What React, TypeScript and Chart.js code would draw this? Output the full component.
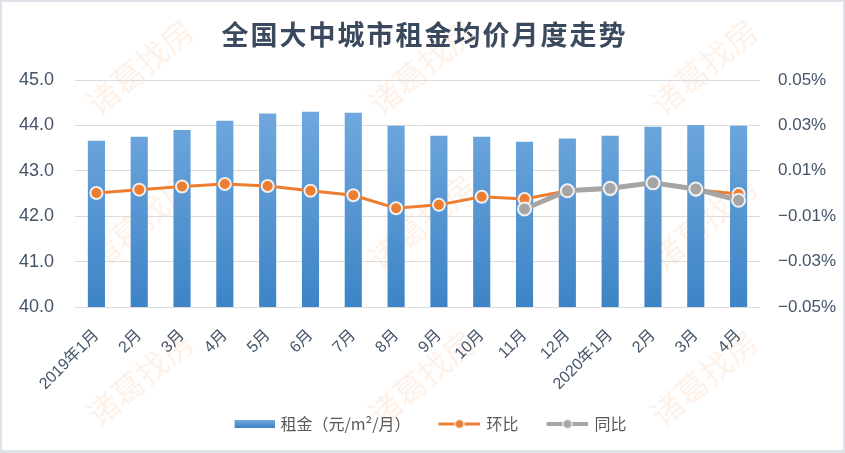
import React, { useEffect, useRef } from 'react';
import { Chart, registerables } from 'chart.js';

Chart.register(...registerables);

const titleText = '全国大中城市租金均价月度走势';
const watermarkText = '诸葛找房';
const categories = ['2019年1月', '2月', '3月', '4月', '5月', '6月', '7月', '8月', '9月', '10月', '11月', '12月', '2020年1月', '2月', '3月', '4月'];
const seriesNames = ['租金（元/m²/月）', '环比', '同比'];
const rentValues = [43.66, 43.75, 43.9, 44.1, 44.26, 44.3, 44.28, 43.99, 43.77, 43.75, 43.64, 43.71, 43.77, 43.97, 44.01, 43.99];
const momValues = [0.0002, 0.0017, 0.0031, 0.0042, 0.0033, 0.0012, -0.0008, -0.0065, -0.005, -0.0014, -0.0024, 0.0012, 0.0019, 0.0047, 0.0016, -0.0002];
const yoyValues = [null, null, null, null, null, null, null, null, null, null, -0.0068, 0.0012, 0.0023, 0.0047, 0.002, -0.003];
const leftAxisRange = [40, 45, 1];
const rightAxisRange = [-0.05, 0.05, 0.02];

const BLUE_TOP = '#70a8de';
const BLUE_BOTTOM = '#3d84c6';
const ORANGE = '#ed7d31';
const GRAY = '#a5a5a5';
const TEXT = '#44546a';
const LATIN_CJK = "'Liberation Sans', 'Noto Sans CJK SC', sans-serif";
const CJK = "'Noto Sans CJK SC', sans-serif";

// legend marker images: 58px wide, drawn centred in a 54px legend box
function legendImage(kind: string): HTMLCanvasElement {
  const c = document.createElement('canvas');
  c.width = 58;
  c.height = 14;
  const g = c.getContext('2d')!;
  if (kind === 'bar') {
    const gr = g.createLinearGradient(0, 3, 0, 11);
    gr.addColorStop(0, BLUE_TOP);
    gr.addColorStop(1, BLUE_BOTTOM);
    g.fillStyle = gr;
    g.fillRect(18, 3, 40, 8);
  } else {
    const col = kind === 'mom' ? ORANGE : GRAY;
    g.strokeStyle = col;
    g.lineWidth = kind === 'mom' ? 3 : 4;
    g.beginPath();
    g.moveTo(16, 7);
    g.lineTo(58, 7);
    g.stroke();
    g.beginPath();
    g.arc(37, 7, 4.5, 0, Math.PI * 2);
    g.fillStyle = col;
    g.fill();
    g.lineWidth = 1.5;
    g.strokeStyle = '#eeeeee';
    g.stroke();
  }
  return c;
}

const watermarkPlugin = {
  id: 'watermark',
  beforeDraw(chart: any) {
    const ctx = chart.ctx;
    ctx.save();
    ctx.fillStyle = '#ffffff';
    ctx.fillRect(0, 0, chart.width, chart.height);
    ctx.font = `32px ${CJK}`;
    ctx.fillStyle = 'rgba(250,170,110,0.16)';
    ctx.textAlign = 'center';
    ctx.textBaseline = 'middle';
    const xs = [138, 420, 702];
    const ys = [65, 220, 376];
    for (const y of ys) {
      for (const x of xs) {
        ctx.save();
        ctx.translate(x, y);
        ctx.rotate((-40 * Math.PI) / 180);
        ctx.fillText(watermarkText, 0, 0);
        ctx.restore();
      }
    }
    ctx.restore();
  },
};

const titlePlugin = {
  id: 'cardTitle',
  afterDraw(chart: any) {
    const ctx = chart.ctx;
    ctx.save();
    ctx.font = `bold 27px ${CJK}`;
    (ctx as any).letterSpacing = '2px';
    ctx.fillStyle = '#3b495e';
    ctx.textAlign = 'center';
    ctx.textBaseline = 'middle';
    ctx.fillText(titleText, chart.width / 2 + 2, 33);
    ctx.restore();
  },
};

export default function App() {
  const ref = useRef<HTMLCanvasElement>(null);

  useEffect(() => {
    const canvas = ref.current!;
    const images = [legendImage('bar'), legendImage('mom'), legendImage('yoy')];

    const barColor = (c: any) => {
      const area = c.chart.chartArea;
      if (!area) return BLUE_BOTTOM;
      const g = c.chart.ctx.createLinearGradient(0, area.top + 30, 0, area.bottom);
      g.addColorStop(0, BLUE_TOP);
      g.addColorStop(1, BLUE_BOTTOM);
      return g;
    };

    const chart = new Chart(canvas, {
      data: {
        labels: categories,
        datasets: [
          {
            type: 'bar',
            label: seriesNames[0],
            data: rentValues,
            yAxisID: 'y',
            backgroundColor: barColor,
            barPercentage: 0.4,
            categoryPercentage: 1,
            order: 3,
          },
          {
            type: 'line',
            label: seriesNames[1],
            data: momValues,
            yAxisID: 'y1',
            borderColor: ORANGE,
            borderWidth: 3,
            backgroundColor: ORANGE,
            pointBackgroundColor: ORANGE,
            pointBorderColor: '#f0f0f0',
            pointBorderWidth: 2,
            pointRadius: 6,
            tension: 0,
            order: 2,
          },
          {
            type: 'line',
            label: seriesNames[2],
            data: yoyValues,
            yAxisID: 'y1',
            borderColor: GRAY,
            borderWidth: 5,
            backgroundColor: GRAY,
            pointBackgroundColor: GRAY,
            pointBorderColor: '#f0f0f0',
            pointBorderWidth: 2,
            pointRadius: 6.5,
            tension: 0,
            order: 1,
          },
        ],
      } as any,
      options: {
        animation: false,
        responsive: false,
        devicePixelRatio: 1,
        layout: { padding: { top: 78, left: 0, right: 0, bottom: 8 } },
        plugins: {
          tooltip: { enabled: false },
          title: { display: false },
          legend: {
            display: true,
            position: 'bottom',
            labels: {
              usePointStyle: true,
              pointStyleWidth: 54,
              padding: 14,
              color: '#595959',
              font: { family: CJK, size: 16 },
              sort: (a: any, b: any) => a.datasetIndex - b.datasetIndex,
              generateLabels: (ch: any) => {
                const items = (Chart.defaults.plugins.legend.labels as any).generateLabels(ch);
                return items.map((it: any) => ({ ...it, pointStyle: images[it.datasetIndex], lineWidth: 0 }));
              },
            },
          },
        },
        scales: {
          x: {
            grid: { display: false, drawTicks: false },
            border: { display: false },
            ticks: {
              color: TEXT,
              font: { family: LATIN_CJK, size: 16 },
              minRotation: 45,
              maxRotation: 45,
              autoSkip: false,
              padding: 19,
            },
            afterFit: (s: any) => {
              s.height = 95;
            },
          },
          y: {
            position: 'left',
            min: leftAxisRange[0],
            max: leftAxisRange[1],
            grid: { color: '#dcdcdc', lineWidth: 1, drawTicks: false },
            border: { display: false },
            ticks: {
              stepSize: leftAxisRange[2],
              color: TEXT,
              padding: 21,
              font: { family: LATIN_CJK, size: 18 },
              callback: (v: any) => Number(v).toFixed(1),
            },
            afterFit: (s: any) => {
              s.width = 73;
            },
          },
          y1: {
            position: 'right',
            min: rightAxisRange[0],
            max: rightAxisRange[1],
            grid: { display: false, drawTicks: false },
            border: { display: false },
            ticks: {
              stepSize: rightAxisRange[2],
              color: TEXT,
              padding: 18,
              font: { family: LATIN_CJK, size: 17 },
              callback: (v: any) => {
                const n = Number(v);
                const s = Math.abs(n).toFixed(2) + '%';
                return n < 0 ? '−' + s : s;
              },
            },
            afterFit: (s: any) => {
              s.width = 83;
            },
          },
        },
      } as any,
      plugins: [watermarkPlugin, titlePlugin],
    });

    return () => chart.destroy();
  }, []);

  return (
    <div style={{ position: 'fixed', left: 0, top: 0, width: 845, height: 453, background: '#dfe3e9' }}>
      <div style={{ position: 'absolute', left: 2, top: 2, width: 841, height: 448, background: '#ffffff' }}>
        <canvas ref={ref} width={841} height={448} style={{ display: 'block', width: 841, height: 448 }} />
      </div>
    </div>
  );
}
